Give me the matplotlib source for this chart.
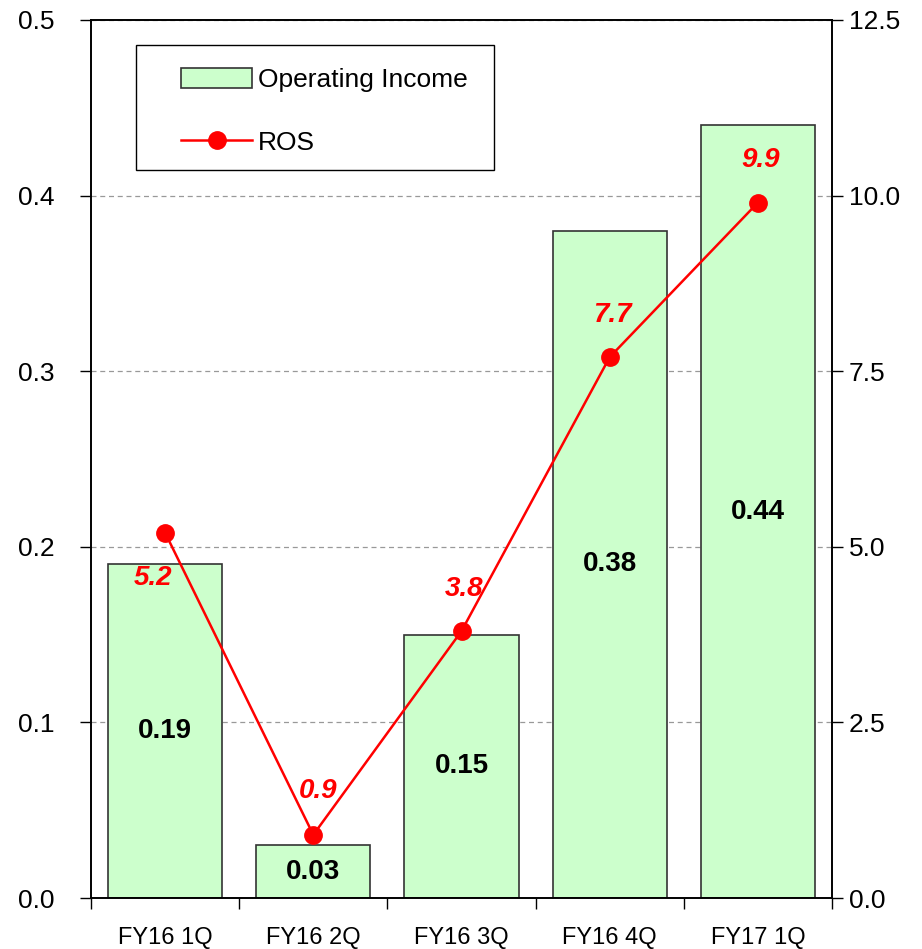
import numpy as np
import matplotlib
matplotlib.use('Agg')
import matplotlib.pyplot as plt
from matplotlib.patches import Rectangle

plt.rcParams['font.family'] = ['Liberation Sans', 'DejaVu Sans']

quarters = ['FY16 1Q', 'FY16 2Q', 'FY16 3Q', 'FY16 4Q', 'FY17 1Q']
op_income = [0.19, 0.03, 0.15, 0.38, 0.44]
ros = [5.2, 0.9, 3.8, 7.7, 9.9]

fig = plt.figure(figsize=(9.22, 9.49), dpi=100)
ax = fig.add_axes([0.0987, 0.0537, 0.8037, 0.9253])
ax2 = ax.twinx()

x = np.arange(len(quarters))
bars = ax.bar(x, op_income, width=0.77, color='#ccffcc', edgecolor='#333333',
              linewidth=1.2, zorder=2, label='Operating Income')
for xi, v in zip(x, op_income):
    ax.text(xi, v / 2, f'{v:.2f}', ha='center', va='center', fontsize=20,
            fontweight='bold', zorder=5)

ax.set_xlim(-0.5, len(quarters) - 0.5)
ax.set_ylim(0, 0.5)
ax.set_yticks(np.arange(0, 0.51, 0.1))
ax.set_yticklabels([f'{t:.1f}' for t in np.arange(0, 0.51, 0.1)])
ax.yaxis.grid(True, linestyle=(0, (4, 3)), color='#999999', linewidth=0.9, zorder=0)
ax.set_axisbelow(True)

# category ticks sit between bars, labels at bar centers
ax.set_xticks(np.arange(-0.5, len(quarters)), minor=False)
ax.set_xticklabels([''] * (len(quarters) + 1))
ax.set_xticks(x, minor=True)
ax.set_xticklabels(quarters, minor=True)
ax.tick_params(axis='x', which='major', length=8, direction='out', width=1)
ax.tick_params(axis='x', which='minor', length=0, pad=21, labelsize=17)
ax.tick_params(axis='y', length=8, width=1, labelsize=19, pad=18)

ax2.plot(x, ros, color='red', linewidth=1.8, marker='o', markersize=12.5,
         zorder=4, label='ROS')
ax2.set_ylim(0, 12.5)
ax2.set_yticks(np.arange(0, 12.6, 2.5))
ax2.set_yticklabels([f'{t:.1f}' for t in np.arange(0, 12.6, 2.5)])
ax2.tick_params(axis='y', length=8, width=1, labelsize=19, pad=4)

offsets = [(-0.08, -0.65), (0.03, 0.62), (0.02, 0.6), (0.02, 0.6), (0.02, 0.6)]
for xi, v, (dx, dy) in zip(x, ros, offsets):
    ax2.text(xi + dx, v + dy, f'{v:.1f}', ha='center', va='center', fontsize=20,
             fontweight='bold', style='italic', color='red')

for a in (ax, ax2):
    for s in a.spines.values():
        s.set_linewidth(1.2)

# legend box drawn separately so the entries can sit inset
ax2.add_patch(Rectangle((0.061, 0.829), 0.483, 0.1425, transform=ax2.transAxes,
                        facecolor='white', edgecolor='black', linewidth=1.0, zorder=6))
h1, l1 = ax.get_legend_handles_labels()
h2, l2 = ax2.get_legend_handles_labels()
leg = ax2.legend(h1 + h2, l1 + l2, loc='upper left', bbox_to_anchor=(0.1215, 0.945),
                 frameon=False, fontsize=19, labelspacing=1.45, borderpad=0,
                 handlelength=2.7, handleheight=0.8, handletextpad=0.2, borderaxespad=0)
leg.set_zorder(7)

fig.savefig('out.png', dpi=100)
